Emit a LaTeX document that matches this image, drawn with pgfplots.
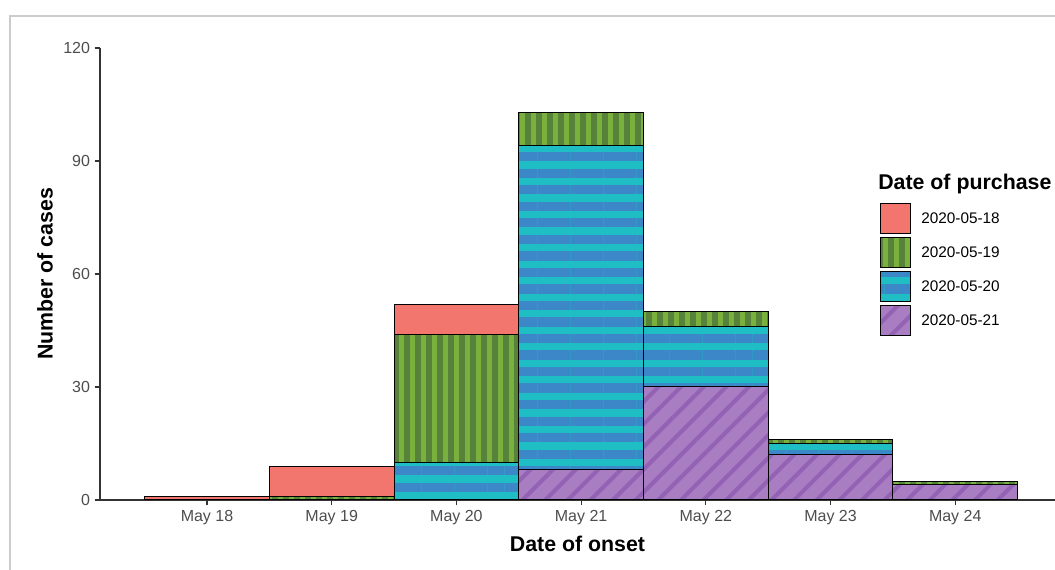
\documentclass[border=0pt]{standalone}
\usepackage{pgfplots}
\pgfplotsset{compat=1.18}
\usepackage{fontspec}
\setmainfont{Liberation Sans}
\usetikzlibrary{patterns.meta}

\definecolor{c18}{HTML}{F2756E}
\definecolor{c19}{HTML}{7AB03E}
\definecolor{c19d}{HTML}{56823A}
\definecolor{c20}{HTML}{1FBDC4}
\definecolor{c20d}{HTML}{3C87C8}
\definecolor{c21}{HTML}{A87DC2}
\definecolor{c21d}{HTML}{9462B4}
\definecolor{tickgray}{HTML}{4D4D4D}

\begin{document}
\begin{tikzpicture}
% outer panel frame
\draw[black!20, line width=2pt] (7.5pt,-10pt) -- (7.5pt,415.5pt) -- (800pt,415.5pt);

\begin{axis}[
  at={(75pt,52.5pt)}, anchor=south west,
  scale only axis, width=716.25pt, height=339pt,
  xmin=-0.858, xmax=6.80, ymin=0, ymax=120,
  ybar stacked, bar width=1,
  axis x line*=bottom, axis y line*=left,
  axis line style={black!80, line width=0.8pt},
  ytick={0,30,60,90,120},
  xtick={0,1,2,3,4,5,6},
  xticklabels={May 18,May 19,May 20,May 21,May 22,May 23,May 24},
  tick align=outside, major tick length=4pt,
  tick style={black!80, line width=0.8pt},
  tick label style={font=\fontsize{12}{14}\selectfont, text=tickgray},
  /pgf/number format/assume math mode=true,
  xlabel={Date of onset}, ylabel={Number of cases},
  label style={font=\bfseries\fontsize{16}{18}\selectfont},
  xlabel style={at={(axis description cs:0.5,-0.0973)}, anchor=center},
  ylabel style={at={(axis description cs:-0.0576,0.5)}, anchor=center},
  legend image code/.code={\draw[#1] (0pt,-11.25pt) rectangle (22.5pt,11.25pt);},
  reverse legend,
  legend cell align=left,
  legend style={at={(axis description cs:0.8168,0.657)}, anchor=north west,
    draw=none, fill=none, inner sep=0pt, row sep=2.25pt,
    font=\fontsize{11.5}{13}\selectfont,
    nodes={inner sep=0pt},
    /tikz/every odd column/.append style={column sep=7.5pt}},
]
% purchased 2020-05-21
\addplot[fill=c21, draw=black, line width=0.75pt,
  postaction={pattern={Lines[angle=45,distance=12pt,line width=3pt]}, pattern color=c21d, draw=black, line width=0.75pt}]
  coordinates {(0,0) (1,0) (2,0) (3,8) (4,30) (5,12) (6,4)};
\addlegendentry{2020-05-21}
% purchased 2020-05-20
\addplot[fill=c20, draw=black, line width=0.75pt,
  postaction={pattern={Lines[angle=0,distance=12.4pt,line width=7pt]}, pattern color=c20d, draw=black, line width=0.75pt}]
  coordinates {(0,0) (1,0) (2,10) (3,86) (4,16) (5,3) (6,0)};
\addlegendentry{2020-05-20}
% purchased 2020-05-19
\addplot[fill=c19, draw=black, line width=0.75pt,
  postaction={pattern={Lines[angle=90,distance=8.25pt,line width=4pt]}, pattern color=c19d, draw=black, line width=0.75pt}]
  coordinates {(0,0) (1,1) (2,34) (3,9) (4,4) (5,1) (6,1)};
\addlegendentry{2020-05-19}
% purchased 2020-05-18
\addplot[fill=c18, draw=black, line width=0.75pt]
  coordinates {(0,1) (1,8) (2,8) (3,0) (4,0) (5,0) (6,0)};
\addlegendentry{2020-05-18}

\node[anchor=base west, inner sep=0pt, font=\bfseries\fontsize{16}{18}\selectfont]
  at (axis description cs:0.8147,0.688) {Date of purchase};
\end{axis}
\pgfresetboundingbox
\path[use as bounding box] (0,0) rectangle (791.25pt,427.5pt);
\end{tikzpicture}
\end{document}
